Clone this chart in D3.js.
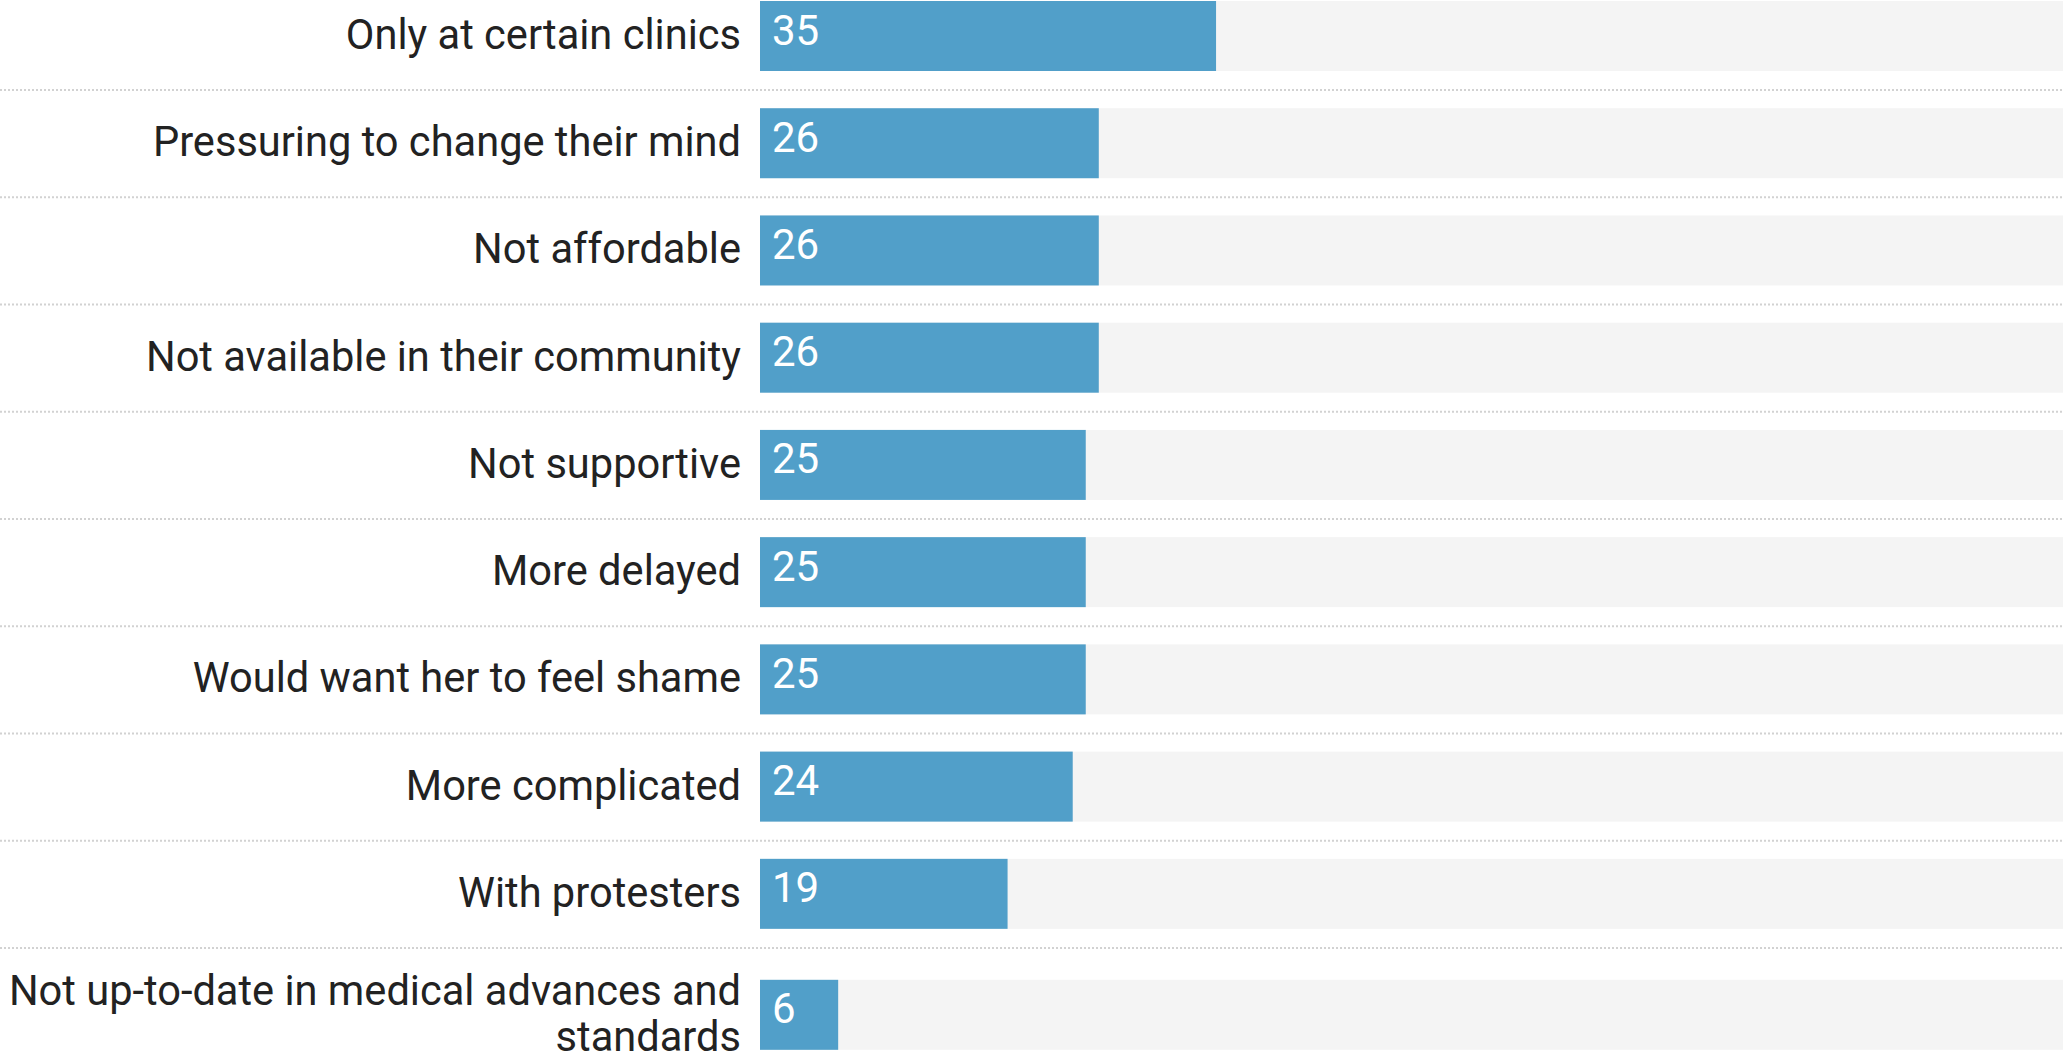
<!DOCTYPE html>
<html>
<head>
<meta charset="utf-8">
<script src="https://cdn.jsdelivr.net/npm/d3@7"></script>
<style>
  html, body { margin: 0; padding: 0; background: #fff; }
  svg { display: block; }
  text { font-family: Roboto, "Noto Sans", sans-serif; }
</style>
</head>
<body>
<script>
const categories = [
  "Only at certain clinics",
  "Pressuring to change their mind",
  "Not affordable",
  "Not available in their community",
  "Not supportive",
  "More delayed",
  "Would want her to feel shame",
  "More complicated",
  "With protesters",
  "Not up-to-date in medical advances and standards"
];
const values = [35, 26, 26, 26, 25, 25, 25, 24, 19, 6];
const domainMax = [100];

const W = 2063, H = 1057;
const labelRight = 741;
const barLeft = 760;
const barH = 70;
const lineH = 46.5;
const blockPad = 4.5;
const gapBelow = 19.1, gapAbove = 18.13;
const labelFont = 41.6, numFont = 42;

const svg = d3.select("body").append("svg").attr("width", W).attr("height", H);

const x = d3.scaleLinear().domain([0, domainMax[0]]).range([barLeft, W]);

// measure & wrap labels
const meas = svg.append("text").attr("font-size", labelFont).attr("visibility", "hidden");
function wrap(str, maxW) {
  const words = str.split(" ");
  const lines = [];
  let cur = "";
  for (const w of words) {
    const t = cur ? cur + " " + w : w;
    meas.text(t);
    if (meas.node().getComputedTextLength() > maxW && cur) {
      lines.push(cur);
      cur = w;
    } else cur = t;
  }
  if (cur) lines.push(cur);
  return lines;
}
const rows = categories.map((c, i) => ({ label: c, value: values[i], lines: wrap(c, labelRight) }));
meas.remove();

// layout rows
let y = 1;
rows.forEach((r, i) => {
  const textH = r.lines.length * lineH + (r.lines.length > 1 ? blockPad : 0);
  const contentH = Math.max(barH, textH);
  r.top = y;
  r.center = y + contentH / 2;
  r.sepY = y + contentH + gapBelow;
  y = r.sepY + gapAbove;
});

const g = svg.append("g");

// separators
g.selectAll("line.sep").data(rows.slice(0, -1)).join("line")
  .attr("class", "sep")
  .attr("x1", 0).attr("x2", W)
  .attr("y1", d => d.sepY).attr("y2", d => d.sepY)
  .attr("stroke", "#d2d2d2").attr("stroke-width", 2)
  .attr("stroke-dasharray", "2,2");

// background bars
g.selectAll("rect.bg").data(rows).join("rect")
  .attr("class", "bg")
  .attr("x", x(0)).attr("width", x(domainMax[0]) - x(0))
  .attr("y", d => d.center - barH / 2).attr("height", barH)
  .attr("fill", "#f4f4f4");

// value bars
g.selectAll("rect.bar").data(rows).join("rect")
  .attr("class", "bar")
  .attr("x", x(0)).attr("width", d => x(d.value) - x(0))
  .attr("y", d => d.center - barH / 2).attr("height", barH)
  .attr("fill", "#519fc9");

// value labels
g.selectAll("text.val").data(rows).join("text")
  .attr("class", "val")
  .attr("x", x(0) + 12)
  .attr("y", d => d.center - barH / 2 + 43.5)
  .attr("font-size", numFont)
  .attr("fill", "#fff")
  .text(d => d.value);

// category labels
const lab = g.selectAll("text.lab").data(rows).join("text")
  .attr("class", "lab")
  .attr("text-anchor", "end")
  .attr("font-size", labelFont)
  .attr("fill", "#222");
lab.each(function(d) {
  const n = d.lines.length;
  const firstBaseline = d.center - (n - 1) * lineH / 2 + 13;
  d3.select(this).selectAll("tspan").data(d.lines).join("tspan")
    .attr("x", labelRight)
    .attr("y", (l, j) => firstBaseline + j * lineH)
    .text(l => l);
});
</script>
</body>
</html>
